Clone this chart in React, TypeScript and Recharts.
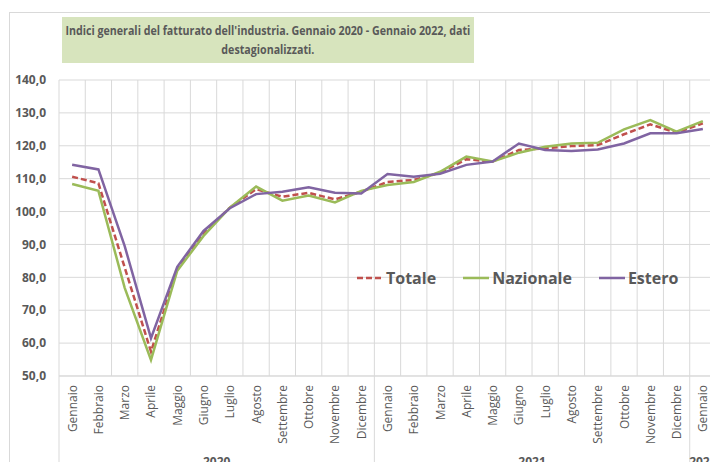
import { LineChart, Line, XAxis, YAxis, CartesianGrid, Legend } from "recharts";

const months = [
  "Gennaio", "Febbraio", "Marzo", "Aprile", "Maggio", "Giugno", "Luglio", "Agosto", "Settembre", "Ottobre", "Novembre", "Dicembre",
  "Gennaio", "Febbraio", "Marzo", "Aprile", "Maggio", "Giugno", "Luglio", "Agosto", "Settembre", "Ottobre", "Novembre", "Dicembre",
  "Gennaio",
];
const years = [
  "2020", "2020", "2020", "2020", "2020", "2020", "2020", "2020", "2020", "2020", "2020", "2020",
  "2021", "2021", "2021", "2021", "2021", "2021", "2021", "2021", "2021", "2021", "2021", "2021",
  "2022",
];
const totale = [110.6, 108.6, 83.0, 57.4, 82.6, 93.4, 101.2, 106.8, 104.5, 105.7, 103.7, 106.0, 109.0, 109.6, 111.8, 115.9, 115.2, 118.7, 119.2, 119.9, 120.2, 123.5, 126.5, 124.0, 126.8];
const nazionale = [108.4, 106.3, 76.8, 54.9, 82.0, 92.6, 101.2, 107.6, 103.3, 104.9, 102.8, 106.3, 108.1, 109.0, 112.1, 116.7, 115.2, 117.9, 119.7, 120.7, 120.9, 125.0, 127.8, 124.3, 127.5];
const estero = [114.2, 112.8, 89.5, 61.5, 83.2, 94.1, 101.0, 105.3, 106.0, 107.4, 105.7, 105.5, 111.4, 110.6, 111.5, 114.2, 115.2, 120.7, 118.7, 118.4, 118.9, 120.7, 123.8, 123.8, 125.1];
const yTicks = [50, 60, 70, 80, 90, 100, 110, 120, 130, 140];
const seriesNames = ["Totale", "Nazionale", "Estero"];

const data = months.map((m, i) => ({
  key: `${m}-${years[i]}`,
  month: m,
  year: years[i],
  Totale: totale[i],
  Nazionale: nazionale[i],
  Estero: estero[i],
}));

const W = 718;
const H = 470;
const margin = { top: 80, right: 2, bottom: 0, left: 0 };
const yAxisWidth = 59;
const xAxisHeight = 94;
const plotWidth = W - margin.left - margin.right - yAxisWidth;
const step = plotWidth / months.length;

const gray = "#595959";
const gridColor = "#d9d9d9";
const font = "'Open Sans', 'Noto Sans', sans-serif";

const colors: Record<string, string> = { Totale: "#c0504d", Nazionale: "#9bbb59", Estero: "#8064a2" };

function MonthTick(props: any) {
  const { x, y, index } = props;
  const i = index as number;
  const isGroupStart = i === 0 || years[i] !== years[i - 1];
  const isLast = i === months.length - 1;
  const groupSize = years.filter((yr) => yr === years[i]).length;
  const left = x - step / 2;
  return (
    <g>
      <text
        transform={`translate(${x + 4.5}, ${y + 9}) rotate(-90)`}
        textAnchor="end"
        fontSize={12}
        fontFamily={font}
        fill={gray}
      >
        {months[i]}
      </text>
      {isLast && <line x1={x + step / 2} x2={x + step / 2} y1={y} y2={H} stroke={gridColor} strokeWidth={1} />}
      {isGroupStart && (
        <>
          <line x1={left} x2={left} y1={y} y2={H} stroke={gridColor} strokeWidth={1} />
          <text
            x={left + (groupSize * step) / 2}
            y={y + 90}
            textAnchor="middle"
            fontSize={12}
            fontWeight="bold"
            fontFamily={font}
            fill={gray}
          >
            {years[i]}
          </text>
        </>
      )}
    </g>
  );
}

function LegendContent(props: any) {
  const payload = [...(props.payload || [])].sort(
    (a: any, b: any) => seriesNames.indexOf(a.value) - seriesNames.indexOf(b.value)
  );
  return (
    <div style={{ display: "flex", alignItems: "center", fontFamily: font, fontWeight: "bold", fontSize: 16, color: gray, height: 24 }}>
      {payload.map((p: any) => (
        <div key={p.value} style={{ display: "flex", alignItems: "center", marginRight: 27 }}>
          <svg width={26} height={4} style={{ marginRight: 3 }}>
            <line
              x1={0}
              x2={26}
              y1={2}
              y2={2}
              stroke={colors[p.value]}
              strokeWidth={2.5}
              strokeDasharray={p.value === "Totale" ? "6 3" : undefined}
            />
          </svg>
          <span>{p.value}</span>
        </div>
      ))}
    </div>
  );
}

export default function App() {
  return (
    <div style={{ position: "relative", width: W, height: H, margin: -8, overflow: "hidden", background: "#fff" }}>
      <div style={{ position: "absolute", left: 9, top: 12, width: 760, height: 520, border: `1px solid ${gridColor}` }} />
      <div
        style={{
          position: "absolute",
          left: 62,
          top: 17,
          width: 412,
          height: 46,
          background: "#d7e4bd",
          display: "flex",
          alignItems: "center",
          justifyContent: "center",
          zIndex: 2,
        }}
      >
        <div
          style={{
            transform: "scaleX(0.82)",
            transformOrigin: "center",
            whiteSpace: "nowrap",
            textAlign: "center",
            fontFamily: font,
            fontWeight: "bold",
            fontSize: 13,
            lineHeight: "19px",
            color: gray,
            flexShrink: 0,
          }}
        >
          Indici generali del fatturato dell'industria. Gennaio 2020 - Gennaio 2022, dati
          <br />
          destagionalizzati.
        </div>
      </div>
      <LineChart width={W} height={H} data={data} margin={margin} style={{ position: "absolute", left: 0, top: 0 }}>
        <CartesianGrid
          stroke={gridColor}
          strokeWidth={1}
          verticalCoordinatesGenerator={({ offset }: any) =>
            [...months, ""].map((_, i) => offset.left + (i * offset.width) / months.length)
          }
        />
        <XAxis
          dataKey="key"
          height={xAxisHeight}
          interval={0}
          padding={{ left: step / 2, right: step / 2 }}
          tickLine={false}
          tickSize={0}
          tickMargin={0}
          axisLine={{ stroke: gridColor }}
          tick={<MonthTick />}
        />
        <YAxis
          width={yAxisWidth}
          domain={[50, 140]}
          ticks={yTicks}
          interval={0}
          axisLine={false}
          tickLine={false}
          tickSize={0}
          tickMargin={13}
          tickFormatter={(v: number) => v.toFixed(1).replace(".", ",")}
          tick={{ fontSize: 12, fontWeight: "bold", fill: gray, fontFamily: font }}
        />
        <Legend
          verticalAlign="middle"
          align="center"
          layout="horizontal"
          content={<LegendContent />}
          wrapperStyle={{ left: 357, top: 266, width: 350, height: 24 }}
        />
        <Line type="linear" dataKey="Totale" stroke={colors.Totale} strokeWidth={2.5} strokeDasharray="6 3" dot={false} activeDot={false} isAnimationActive={false} />
        <Line type="linear" dataKey="Nazionale" stroke={colors.Nazionale} strokeWidth={2.5} dot={false} activeDot={false} isAnimationActive={false} />
        <Line type="linear" dataKey="Estero" stroke={colors.Estero} strokeWidth={2.5} dot={false} activeDot={false} isAnimationActive={false} />
      </LineChart>
    </div>
  );
}
